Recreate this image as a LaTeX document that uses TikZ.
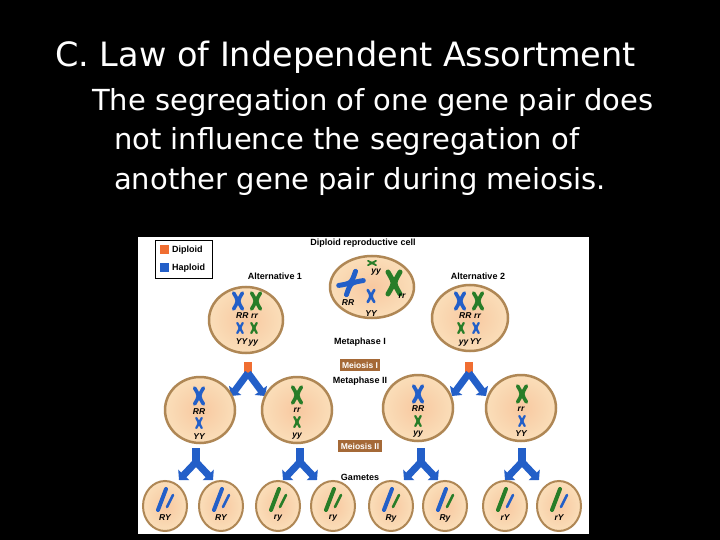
\documentclass[tikz,border=0pt]{standalone}
\usepackage{fontspec}
\setmainfont{DejaVu Sans}
\newfontfamily\figfont{Liberation Sans}
\usetikzlibrary{arrows.meta}
\definecolor{cb}{RGB}{35,95,200}
\definecolor{cg}{RGB}{40,125,40}
\definecolor{co}{RGB}{240,110,50}
\definecolor{cbrown}{RGB}{165,105,55}
\definecolor{cedge}{RGB}{175,135,85}
\definecolor{cfill}{RGB}{250,222,185}
\definecolor{cin}{RGB}{248,200,160}
\tikzset{
 cell/.style={draw=cedge,line width=2.5pt,inner color=cin,outer color=cfill},
 flab/.style={font=\figfont\bfseries\fontsize{9}{10}\selectfont,inner sep=0pt},
 gen/.style={font=\figfont\bfseries\itshape\fontsize{8.5}{9}\selectfont,inner sep=0pt},
 mbox/.style={fill=cbrown,text=white,font=\figfont\bfseries\fontsize{8.5}{9}\selectfont,inner sep=2.5pt},
 yarrow/.style={draw=cb,line width=7pt,-{Triangle[length=7pt,width=15pt]}},
 slide/.style={text=white,anchor=west,inner sep=0pt,font=\fontsize{29}{34}\selectfont}
}
\newcommand{\chrX}[4]{%
 \begin{scope}[shift={(#1,#2)}]
 \draw[#3,line width=0.45*#4pt,line cap=round] (-0.55*#4,-#4) .. controls (0.05*#4,0) .. (-0.55*#4,#4);
 \draw[#3,line width=0.45*#4pt,line cap=round] (0.55*#4,-#4) .. controls (-0.05*#4,0) .. (0.55*#4,#4);
 \end{scope}}
\newcommand{\gam}[4]{%
 \draw[#3,line width=4pt,line cap=round] (#1-7,#2+11) -- (#1+1,#2-10);
 \draw[#4,line width=2.5pt,line cap=round] (#1+2,#2+8) -- (#1+8,#2-4);}
\newcommand{\Yarr}[4]{%
 \draw[cb,line width=8pt] (#1,#2) -- (#1,#3);
 \draw[yarrow] (#1,#3) -- (#1-17,#4);
 \draw[yarrow] (#1,#3) -- (#1+17,#4);}
\begin{document}
\begin{tikzpicture}[x=1pt,y=-1pt]
\fill[black] (0,0) rectangle (720,540);
\useasboundingbox (0,0) rectangle (720,540);
\node[slide,font=\fontsize{33.5}{38}\selectfont] (title) at (55,57) {C. Law of Independent Assortment};
\node[slide] (l1) at (92,103) {The segregation of one gene pair does};
\node[slide] (l2) at (114,142) {not influence the segregation of};
\node[slide] (l3) at (114,181) {another gene pair during meiosis.};
\fill[white] (138,237) rectangle (589,534);
\draw[black,line width=1pt] (155,240) rectangle (212,278);
\fill[co] (160,245) rectangle (169,254);
\fill[cb] (160,263) rectangle (169,272);
\node[flab,anchor=west] (ld) at (172,250) {Diploid};
\node[flab,anchor=west] (lh) at (172,268) {Haploid};
\node[flab] (drc) at (363,243) {Diploid reproductive cell};
\node[flab] (a1) at (275,276) {Alternative 1};
\node[flab] (a2) at (478,276) {Alternative 2};
\node[flab] (m1) at (360,342) {Metaphase I};
\node[mbox] (mi) at (360,365) {Meiosis I};
\node[flab] (m2) at (360,381) {Metaphase II};
\node[mbox] (mii) at (360,446) {Meiosis II};
\node[flab] (gm) at (360,477) {Gametes};
% top cell
\draw[cell] (372,287) ellipse (42 and 31);
\begin{scope}[shift={(372,263)},rotate=90]
\chrX{0}{0}{cg}{4}
\end{scope}
\node[gen] at (376,272) {yy};
\begin{scope}[shift={(351,283)},rotate=-50]
\chrX{0}{0}{cb}{11}
\end{scope}
\node[gen] at (348,303) {RR};
\chrX{371}{296}{cb}{6}
\node[gen] at (371,314) {YY};
\chrX{394}{283}{cg}{11}
\node[gen] at (402,296) {rr};
% alternative cells
\draw[cell] (246,320) ellipse (37 and 33);
\chrX{238}{301}{cb}{8}\chrX{256}{301}{cg}{8}
\node[gen] at (247,316) {RR\,\,rr};
\chrX{240}{328}{cb}{5}\chrX{254}{328}{cg}{5}
\node[gen] at (247,342) {YY\,yy};
\draw[cell] (470,318) ellipse (38 and 33);
\chrX{460}{301}{cb}{8}\chrX{478}{301}{cg}{8}
\node[gen] at (470,316) {RR\,\,rr};
\chrX{461}{328}{cg}{5}\chrX{476}{328}{cb}{5}
\node[gen] at (470,342) {yy\,YY};
\foreach \x in {248,469}{
 \draw[co,line width=8pt] (\x,362) -- (\x,373);
 \draw[yarrow] (\x,373) -- (\x-17,396);
 \draw[yarrow] (\x,373) -- (\x+17,396);}
% second row
\draw[cell] (200,410) ellipse (35 and 33);
\chrX{199}{396}{cb}{8}\node[gen] at (199,412) {RR};
\chrX{199}{423}{cb}{5}\node[gen] at (199,437) {YY};
\draw[cell] (297,410) ellipse (35 and 33);
\chrX{297}{395}{cg}{8}\node[gen] at (297,410) {rr};
\chrX{297}{422}{cg}{5}\node[gen] at (297,436) {yy};
\draw[cell] (418,408) ellipse (35 and 33);
\chrX{418}{394}{cb}{8}\node[gen] at (418,409) {RR};
\chrX{418}{421}{cg}{5}\node[gen] at (418,434) {yy};
\draw[cell] (521,408) ellipse (35 and 33);
\chrX{522}{394}{cg}{8}\node[gen] at (521,409) {rr};
\chrX{522}{421}{cb}{5}\node[gen] at (521,434) {YY};
\foreach \x in {196,300,421,522}{\Yarr{\x}{448}{462}{480}}
\foreach \x/\cl/\cs/\t in {165/cb/cb/RY,221/cb/cb/RY,278/cg/cg/ry,333/cg/cg/ry,391/cb/cg/Ry,445/cb/cg/Ry,505/cg/cb/rY,559/cg/cb/rY}{
 \draw[cell,line width=2pt] (\x,506) ellipse (22 and 25);
 \gam{\x}{499}{\cl}{\cs}
 \node[gen] at (\x,518) {\t};}
\end{tikzpicture}
\end{document}
